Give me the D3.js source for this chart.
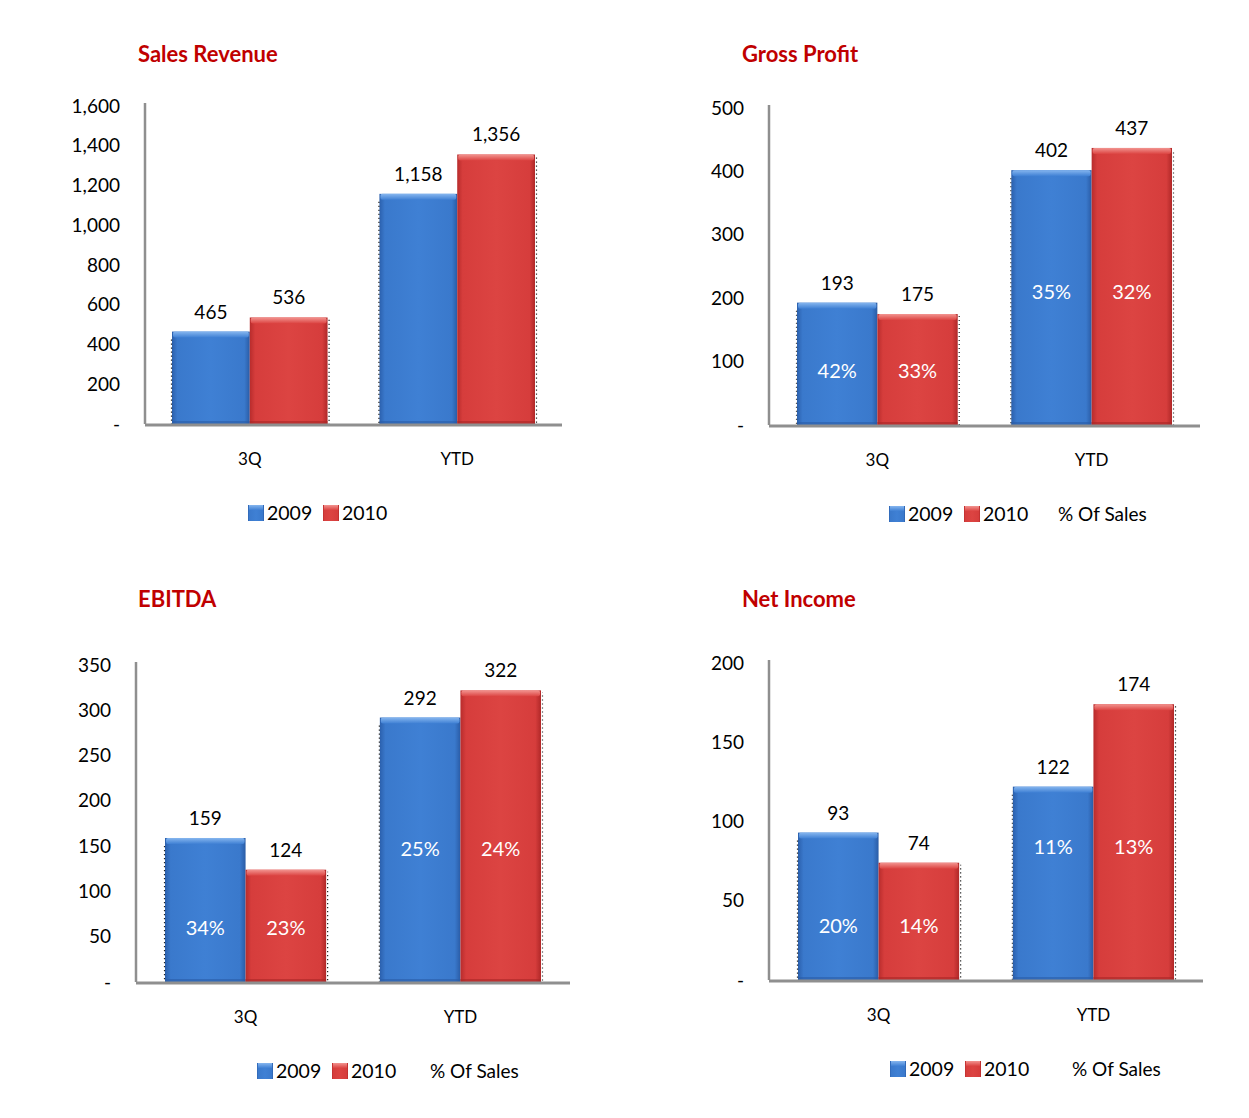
<!DOCTYPE html>
<html>
<head>
<meta charset="utf-8">
<script src="https://cdn.jsdelivr.net/npm/d3@7"></script>
<style>
  body { margin: 0; background: #fff; }
  svg text { font-family: Lato, "Open Sans", sans-serif; }
</style>
</head>
<body>
<div id="chart"></div>
<script>
// data
var categories = ["3Q", "YTD"];
var seriesNames = ["2009", "2010"];

var salesRevenue2009 = [465, 1158];
var salesRevenue2010 = [536, 1356];
var salesTicks = [0, 200, 400, 600, 800, 1000, 1200, 1400, 1600];

var grossProfit2009 = [193, 402];
var grossProfit2010 = [175, 437];
var grossPct2009 = ["42%", "35%"];
var grossPct2010 = ["33%", "32%"];
var grossTicks = [0, 100, 200, 300, 400, 500];

var ebitda2009 = [159, 292];
var ebitda2010 = [124, 322];
var ebitdaPct2009 = ["34%", "25%"];
var ebitdaPct2010 = ["23%", "24%"];
var ebitdaTicks = [0, 50, 100, 150, 200, 250, 300, 350];

var netIncome2009 = [93, 122];
var netIncome2010 = [74, 174];
var netPct2009 = ["20%", "11%"];
var netPct2010 = ["14%", "13%"];
var netTicks = [0, 50, 100, 150, 200];

var W = 1249, H = 1118;
var svg = d3.select("#chart").append("svg").attr("width", W).attr("height", H);

// gradients for the bevelled bars
var defs = svg.append("defs");
function grad(id, stops, vertical){
  var g = defs.append("linearGradient").attr("id", id)
    .attr("x1", 0).attr("y1", 0).attr("x2", vertical ? 0 : 1).attr("y2", vertical ? 1 : 0);
  stops.forEach(function(s){ g.append("stop").attr("offset", s[0]).attr("stop-color", s[1]); });
}
grad("blueBody", [["0", "#2b60ad"], ["0.07", "#3a79cc"], ["0.5", "#3f80d4"], ["0.93", "#3a79cc"], ["1", "#2a5ca6"]]);
grad("redBody", [["0", "#b82c2c"], ["0.07", "#d63d3c"], ["0.5", "#dc4442"], ["0.93", "#d63d3c"], ["1", "#b02828"]]);
grad("blueTop", [["0", "#86b6ef"], ["1", "#3f80d4"]], true);
grad("redTop", [["0", "#f29490"], ["1", "#dc4442"]], true);
var fills = {"2009": ["url(#blueBody)", "url(#blueTop)", "#2a5ca6"], "2010": ["url(#redBody)", "url(#redTop)", "#a82626"]};

var red = "#c00000";

function panel(o){
  var g = svg.append("g");
  var y = d3.scaleLinear().domain([0, d3.max(o.ticks)]).range([o.yBottom, o.yTop]);
  var x0 = d3.scaleBand().domain(categories).range([o.barsLeft, o.barsRight]).paddingInner(0.25);
  var x1 = d3.scaleBand().domain(seriesNames).range([0, x0.bandwidth()]);

  g.append("text").attr("x", o.titleX).attr("y", o.titleY)
    .attr("fill", red).attr("font-weight", "bold").attr("font-size", 22).text(o.title);

  // y axis
  var ya = g.append("g").attr("transform", "translate(" + o.axisX + ",0)")
    .call(d3.axisLeft(y).tickValues(o.ticks).tickSize(0).tickPadding(25)
      .tickFormat(function(d){ return d === 0 ? "-" : d3.format(",")(d); }));
  ya.select(".domain").remove();
  ya.selectAll("text").attr("font-size", 19).attr("fill", "#000").attr("font-family", "Lato, sans-serif");
  g.append("line").attr("x1", o.axisX).attr("x2", o.axisX).attr("y1", o.yTop - 3).attr("y2", o.yBottom)
    .attr("stroke", "#8f8f8f").attr("stroke-width", 2.5);

  var rows = seriesNames.map(function(s, si){
    return categories.map(function(c, ci){
      return {series: s, cat: c, value: o.values[si][ci], pct: o.pcts ? o.pcts[si][ci] : null, ci: ci};
    });
  });
  var bars = d3.merge(rows);

  var bar = g.selectAll(".bar").data(bars).enter().append("g").attr("class", "bar")
    .attr("transform", function(d){ return "translate(" + (x0(d.cat) + x1(d.series)) + ",0)"; });
  bar.append("rect").attr("x", 0).attr("width", x1.bandwidth())
    .attr("y", function(d){ return y(d.value); })
    .attr("height", function(d){ return o.yBottom - y(d.value); })
    .attr("fill", function(d){ return fills[d.series][0]; });
  bar.append("rect").attr("x", 1).attr("width", x1.bandwidth() - 2)
    .attr("y", function(d){ return y(d.value); })
    .attr("height", 6).attr("rx", 2)
    .attr("fill", function(d){ return fills[d.series][1]; });
  bar.append("rect").attr("x", 0).attr("width", x1.bandwidth())
    .attr("y", o.yBottom - 3).attr("height", 3)
    .attr("fill", function(d){ return fills[d.series][2]; }).attr("opacity", 0.6);

  // dotted shadow edges
  categories.forEach(function(c){
    var l = x0(c), r = x0(c) + x0.bandwidth();
    var top1 = y(o.values[0][categories.indexOf(c)]), top2 = y(o.values[1][categories.indexOf(c)]);
    g.append("path").attr("d", "M" + (l - 0.5) + "," + (top1 + 8) + "V" + (o.yBottom + 1.5) + "H" + (r + 1.5) + "V" + (top2 + 2))
      .attr("fill", "none").attr("stroke", "#222").attr("stroke-width", 1.2).attr("stroke-dasharray", "1.2,2.8");
  });

  // x axis
  g.append("line").attr("x1", o.axisX).attr("x2", o.axisRight).attr("y1", o.yBottom + 1).attr("y2", o.yBottom + 1)
    .attr("stroke", "#8f8f8f").attr("stroke-width", 3);
  g.selectAll(".cat").data(categories).enter().append("text")
    .attr("x", function(c){ return x0(c) + x0.bandwidth() / 2; })
    .attr("y", o.yBottom + 41).attr("text-anchor", "middle").attr("font-size", 17).text(function(c){ return c; });

  // value labels
  bar.append("text").attr("x", x1.bandwidth() / 2)
    .attr("y", function(d){ return y(d.value) - 13; })
    .attr("text-anchor", "middle").attr("font-size", 19).attr("fill", "#000")
    .text(function(d){ return d3.format(",")(d.value); });

  if (o.pcts) {
    var span = o.yBottom - o.yTop;
    bar.append("text").attr("x", x1.bandwidth() / 2)
      .attr("y", function(d){ return o.yBottom - span * o.pctLevel[d.ci] + 7; })
      .attr("text-anchor", "middle").attr("font-size", 20).attr("fill", "#fff")
      .text(function(d){ return d.pct; });
  }

  // legend
  var ly = o.yBottom + 89;
  var leg = g.append("g").attr("transform", "translate(" + o.legendX + "," + ly + ")");
  seriesNames.forEach(function(s, i){
    var lx = i * 75;
    leg.append("rect").attr("x", lx).attr("y", -8).attr("width", 16).attr("height", 16).attr("fill", fills[s][0]);
    leg.append("rect").attr("x", lx + 1).attr("y", -8).attr("width", 14).attr("height", 5).attr("fill", fills[s][1]);
    leg.append("text").attr("x", lx + 19).attr("y", 7).attr("font-size", 19.5).text(s);
  });
  if (o.pcts) {
    leg.append("text").attr("x", o.pctLegendX).attr("y", 7).attr("font-size", 19).text("% Of Sales");
  }
}

var pctLevel = [0.17, 0.42];

panel({title: "Sales Revenue", titleX: 138, titleY: 62, values: [salesRevenue2009, salesRevenue2010], ticks: salesTicks,
  axisX: 145, axisRight: 562, barsLeft: 172, barsRight: 535, yTop: 106, yBottom: 424, legendX: 248});
panel({title: "Gross Profit", titleX: 742, titleY: 62, values: [grossProfit2009, grossProfit2010], ticks: grossTicks,
  pcts: [grossPct2009, grossPct2010], pctLevel: pctLevel,
  axisX: 769, axisRight: 1200, barsLeft: 797, barsRight: 1172, yTop: 108, yBottom: 425, legendX: 889, pctLegendX: 169});
panel({title: "EBITDA", titleX: 138, titleY: 607, values: [ebitda2009, ebitda2010], ticks: ebitdaTicks,
  pcts: [ebitdaPct2009, ebitdaPct2010], pctLevel: pctLevel,
  axisX: 136, axisRight: 570, barsLeft: 165, barsRight: 541, yTop: 665, yBottom: 982, legendX: 257, pctLegendX: 173});
panel({title: "Net Income", titleX: 742, titleY: 607, values: [netIncome2009, netIncome2010], ticks: netTicks,
  pcts: [netPct2009, netPct2010], pctLevel: pctLevel,
  axisX: 769, axisRight: 1203, barsLeft: 798, barsRight: 1174, yTop: 663, yBottom: 980, legendX: 890, pctLegendX: 182});
</script>
</body>
</html>
